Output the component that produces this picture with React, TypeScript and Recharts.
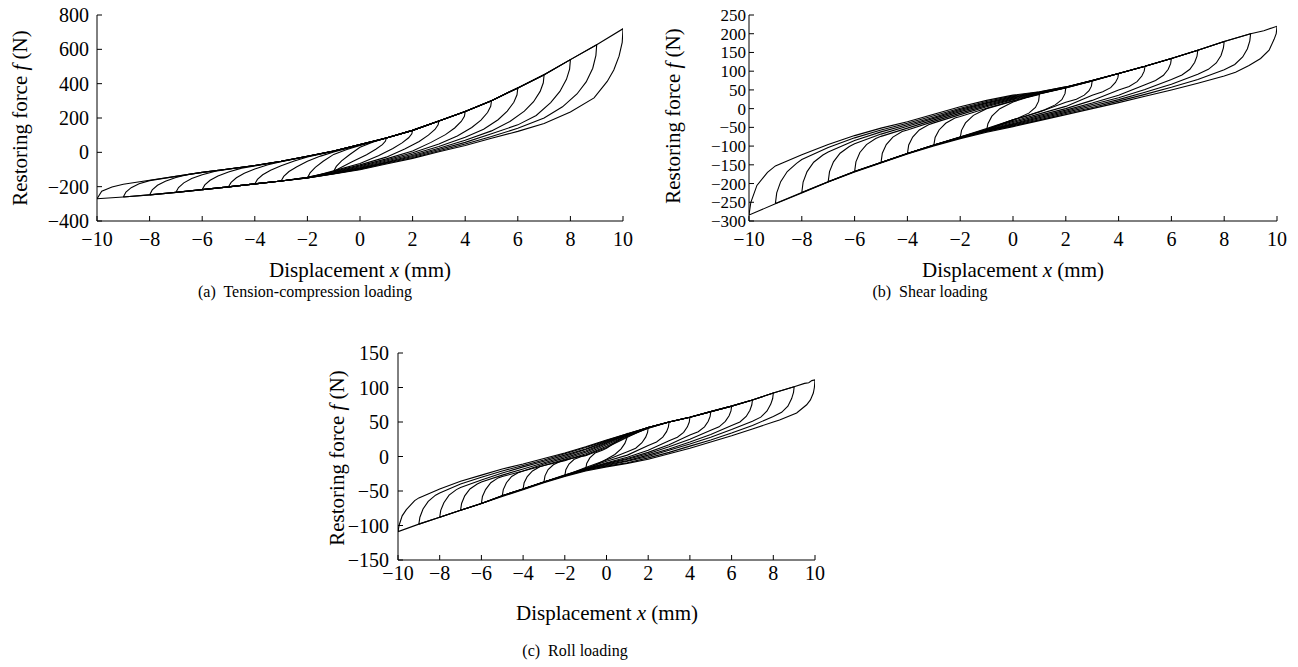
import React from 'react'
import { LineChart, Line, XAxis, YAxis } from 'recharts'

// tick values
const xTicks = [-10, -8, -6, -4, -2, 0, 2, 4, 6, 8, 10]
const yTicksA = [-400, -200, 0, 200, 400, 600, 800]
const yTicksB = [-300, -250, -200, -150, -100, -50, 0, 50, 100, 150, 200, 250]
const yTicksC = [-150, -100, -50, 0, 50, 100, 150]

// (a) tension-compression: one closed loop per amplitude, [x mm, f N]
const loopsA = [
  [[-1,-110],[-0.9,-82],[-0.7,-50],[-0.4,-14],[0,30],[0.5,60],[1,84],[0.97,66],[0.85,45],[0.6,18],[0.25,-14],[-0.3,-55],[-1,-110]],
  [[-2,-149],[-1.9,-120],[-1.7,-88],[-1.4,-52],[-1,-12],[-0.5,16],[0,40],[1,83],[2,128],[1.97,108],[1.85,85],[1.6,55],[1.25,22],[0.7,-20],[0,-65],[-1,-108],[-2,-149]],
  [[-3,-167],[-2.9,-140],[-2.7,-112],[-2.4,-84],[-2,-52],[-1.5,-22],[-1,2],[0,43],[1,84],[2,128],[3,182],[2.97,160],[2.85,133],[2.6,100],[2.25,63],[1.7,20],[1,-28],[0,-73],[-1,-112],[-2,-145],[-3,-167]],
  [[-4,-184],[-3.9,-158],[-3.7,-131],[-3.4,-104],[-3,-78],[-2.5,-50],[-2,-27],[-1,6],[0,44],[1,84],[2,128],[3,182],[4,238],[3.97,210],[3.85,180],[3.6,142],[3.25,103],[2.7,58],[2,8],[1,-38],[0,-79],[-1,-115],[-2,-146],[-3,-167],[-4,-184]],
  [[-5,-201],[-4.9,-175],[-4.7,-148],[-4.4,-122],[-4,-97],[-3.5,-72],[-3,-55],[-2,-24],[-1,7],[0,45],[1,84],[2,128],[3,182],[4,238],[5,301],[4.97,268],[4.85,232],[4.6,188],[4.25,145],[3.7,95],[3,48],[2,-3],[1,-45],[0,-84],[-1,-118],[-2,-147],[-3,-167],[-4,-184],[-5,-201]],
  [[-6,-217],[-5.9,-190],[-5.7,-163],[-5.4,-138],[-5,-114],[-4.5,-92],[-4,-79],[-3,-53],[-2,-23],[-1,8],[0,45],[1,84],[2,128],[3,182],[4,238],[5,301],[6,375],[5.97,335],[5.85,292],[5.6,240],[5.25,190],[4.7,135],[4,88],[3,34],[2,-11],[1,-51],[0,-88],[-1,-120],[-2,-148],[-3,-167],[-4,-184],[-5,-201],[-6,-217]],
  [[-7,-233],[-6.9,-205],[-6.7,-178],[-6.4,-153],[-6,-131],[-5.5,-110],[-5,-98],[-4,-77],[-3,-52],[-2,-23],[-1,8],[0,45],[1,84],[2,128],[3,182],[4,238],[5,301],[6,375],[7,452],[6.97,405],[6.85,355],[6.6,295],[6.25,240],[5.7,180],[5,125],[4,70],[3,24],[2,-18],[1,-56],[0,-92],[-1,-122],[-2,-148],[-3,-167],[-4,-184],[-5,-201],[-6,-217],[-7,-233]],
  [[-8,-248],[-7.9,-219],[-7.7,-192],[-7.4,-168],[-7,-147],[-6.5,-128],[-6,-117],[-5,-97],[-4,-77],[-3,-52],[-2,-23],[-1,8],[0,45],[1,84],[2,128],[3,182],[4,238],[5,301],[6,375],[7,452],[8,540],[7.97,485],[7.85,425],[7.6,355],[7.25,290],[6.7,215],[6,160],[5,108],[4,58],[3,16],[2,-24],[1,-60],[0,-95],[-1,-124],[-2,-149],[-3,-167],[-4,-184],[-5,-201],[-6,-217],[-7,-233],[-8,-248]],
  [[-9,-260],[-8.9,-231],[-8.7,-206],[-8.4,-183],[-8,-165],[-7,-140],[-6,-117],[-5,-97],[-4,-77],[-3,-52],[-2,-23],[-1,8],[0,45],[1,84],[2,128],[3,182],[4,238],[5,301],[6,375],[7,452],[8,540],[9,627],[8.97,565],[8.85,490],[8.6,410],[8.25,340],[7.7,265],[7,200],[6,140],[5,92],[4,48],[3,9],[2,-30],[1,-64],[0,-98],[-1,-125],[-2,-149],[-3,-167],[-4,-184],[-5,-201],[-6,-217],[-7,-233],[-8,-248],[-9,-260]],
  [[-10,-270],[-9.82,-227],[-9.43,-202],[-9,-186],[-8,-163],[-7,-140],[-6,-117],[-5,-97],[-4,-77],[-3,-52],[-2,-23],[-1,8],[0,45],[1,84],[2,128],[3,182],[4,238],[5,301],[6,375],[7,452],[8,540],[9,627],[10,720],[9.97,640],[9.85,560],[9.65,480],[9.4,413],[8.9,317],[8,235],[7,168],[6,122],[5,82],[4,40],[3,3],[2,-35],[1,-68],[0,-101],[-1,-126],[-2,-149],[-3,-167],[-4,-184],[-5,-201],[-6,-217],[-7,-233],[-8,-248],[-9,-260],[-10,-270]],
]

// (b) shear
const loopsB = [
  [[-1,-58],[-0.95,-40],[-0.8,-20],[-0.5,0],[0,18],[0.5,29],[1,38],[0.97,20],[0.85,3],[0.6,-12],[0.2,-25],[-0.3,-38],[-0.7,-49],[-1,-58]],
  [[-2,-78],[-1.95,-58],[-1.8,-38],[-1.5,-18],[-1,0],[0,20],[1,40],[2,56],[1.97,40],[1.85,24],[1.6,10],[1.2,-3],[0.5,-20],[0,-30],[-1,-55],[-2,-78]],
  [[-3,-98],[-2.95,-77],[-2.8,-57],[-2.55,-39],[-2.2,-25],[-2,-21],[-1,1],[0,21],[1,39],[2,55],[3,74],[2.97,60],[2.88,48],[2.7,36],[2.4,25],[2,17],[1,-9],[0,-30],[-1,-53],[-2,-76],[-3,-98]],
  [[-4,-120],[-3.95,-97],[-3.8,-76],[-3.55,-57],[-3.2,-43],[-3,-38],[-2,-16],[-1,5],[0,24],[1,40],[2,56],[3,74],[4,94],[3.97,82],[3.88,70],[3.7,56],[3.4,45],[3,36],[2,6],[1,-14],[0,-34],[-1,-55],[-2,-76],[-3,-97],[-4,-120]],
  [[-5,-144],[-4.95,-119],[-4.8,-96],[-4.55,-76],[-4.2,-61],[-4,-57],[-3,-34],[-2,-12],[-1,8],[0,26],[1,41],[2,56],[3,74],[4,94],[5,113],[4.97,100],[4.88,87],[4.7,72],[4.4,59],[4,50],[3,22],[2,0],[1,-18],[0,-37],[-1,-57],[-2,-76],[-3,-97],[-4,-120],[-5,-144]],
  [[-6,-168],[-5.95,-142],[-5.8,-117],[-5.55,-96],[-5.2,-80],[-5,-74],[-4,-52],[-3,-30],[-2,-8],[-1,11],[0,28],[1,42],[2,57],[3,75],[4,94],[5,113],[6,134],[5.97,120],[5.88,105],[5.7,89],[5.4,75],[5,64],[4,36],[3,15],[2,-4],[1,-21],[0,-40],[-1,-58],[-2,-77],[-3,-97],[-4,-120],[-5,-144],[-6,-168]],
  [[-7,-195],[-6.95,-168],[-6.8,-142],[-6.55,-119],[-6.2,-101],[-6,-94],[-5,-68],[-4,-47],[-3,-26],[-2,-5],[-1,14],[0,30],[1,43],[2,57],[3,75],[4,94],[5,113],[6,134],[7,156],[6.97,140],[6.88,123],[6.7,105],[6.4,90],[6,78],[5,51],[4,29],[3,11],[2,-7],[1,-24],[0,-42],[-1,-59],[-2,-77],[-3,-98],[-4,-120],[-5,-144],[-6,-168],[-7,-195]],
  [[-8,-224],[-7.95,-196],[-7.8,-168],[-7.55,-143],[-7.2,-124],[-7,-116],[-6,-85],[-5,-62],[-4,-43],[-3,-23],[-2,-2],[-1,16],[0,32],[1,43],[2,57],[3,75],[4,94],[5,113],[6,134],[7,156],[8,179],[7.97,162],[7.88,142],[7.7,122],[7.4,105],[7,92],[6,65],[5,44],[4,24],[3,7],[2,-10],[1,-27],[0,-44],[-1,-60],[-2,-78],[-3,-98],[-4,-120],[-5,-144],[-6,-168],[-7,-195],[-8,-224]],
  [[-9,-253],[-8.95,-225],[-8.8,-195],[-8.55,-168],[-8.2,-146],[-8,-136],[-7,-104],[-6,-78],[-5,-57],[-4,-39],[-3,-19],[-2,1],[-1,19],[0,34],[1,44],[2,58],[3,75],[4,94],[5,113],[6,134],[7,156],[8,179],[9,200],[8.97,181],[8.88,160],[8.7,138],[8.4,118],[8,104],[7,78],[6,57],[5,38],[4,20],[3,3],[2,-13],[1,-30],[0,-46],[-1,-61],[-2,-78],[-3,-98],[-4,-120],[-5,-144],[-6,-168],[-7,-195],[-8,-224],[-9,-253]],
  [[-10,-284],[-9.93,-250],[-9.7,-205],[-9.3,-170],[-9,-153],[-8,-123],[-7,-96],[-6,-72],[-5,-52],[-4,-35],[-3,-15],[-2,5],[-1,22],[0,36],[1,45],[2,58],[3,75],[4,94],[5,113],[6,134],[7,156],[8,179],[9,200],[9.5,208],[10,220],[9.97,200],[9.89,185],[9.7,156],[9.38,134],[8.94,115],[8.43,97],[8,87],[7,68],[6,50],[5,33],[4,16],[3,0],[2,-16],[1,-32],[0,-48],[-1,-63],[-2,-80],[-3,-100],[-4,-121],[-5,-145],[-6,-169],[-7,-196],[-8,-225],[-9,-254],[-10,-284]],
]

// (c) roll
const loopsC = [
  [[-1,-19],[-0.95,-10],[-0.8,-2],[-0.55,5],[-0.2,9],[0,12],[0.5,22],[1,33],[0.97,26],[0.88,19],[0.7,11],[0.4,3],[0,-4],[-0.5,-12],[-1,-19]],
  [[-2,-28],[-1.95,-19],[-1.8,-11],[-1.55,-4],[-1.2,0],[-1,1],[0,13],[1,28],[2,42],[1.97,35],[1.88,28],[1.7,20],[1.4,12],[1,7],[0,-5],[-1,-16],[-2,-28]],
  [[-3,-37],[-2.95,-28],[-2.8,-19],[-2.55,-12],[-2.2,-7],[-2,-5],[-1,2],[0,15],[1,29],[2,41],[3,50],[2.97,43],[2.88,36],[2.7,28],[2.4,21],[2,16],[1,2],[0,-7],[-1,-17],[-2,-27],[-3,-37]],
  [[-4,-47],[-3.95,-38],[-3.8,-29],[-3.55,-21],[-3.2,-15],[-3,-13],[-2,-6],[-1,4],[0,17],[1,30],[2,41],[3,50],[4,57],[3.97,50],[3.88,43],[3.7,35],[3.4,28],[3,23],[2,9],[1,-1],[0,-9],[-1,-18],[-2,-27],[-3,-37],[-4,-47]],
  [[-5,-57],[-4.95,-48],[-4.8,-38],[-4.55,-29],[-4.2,-23],[-4,-21],[-3,-13],[-2,-4],[-1,6],[0,19],[1,31],[2,42],[3,50],[4,57],[5,65],[4.97,58],[4.88,51],[4.7,43],[4.4,36],[4,31],[3,17],[2,6],[1,-3],[0,-10],[-1,-18],[-2,-28],[-3,-37],[-4,-47],[-5,-57]],
  [[-6,-68],[-5.95,-58],[-5.8,-48],[-5.55,-38],[-5.2,-31],[-5,-29],[-4,-21],[-3,-11],[-2,-2],[-1,8],[0,20],[1,32],[2,42],[3,50],[4,57],[5,65],[6,73],[5.97,66],[5.88,59],[5.7,51],[5.4,43],[5,38],[4,25],[3,14],[2,4],[1,-4],[0,-11],[-1,-19],[-2,-28],[-3,-37],[-4,-47],[-5,-57],[-6,-68]],
  [[-7,-78],[-6.95,-68],[-6.8,-57],[-6.55,-47],[-6.2,-40],[-6,-37],[-5,-27],[-4,-18],[-3,-9],[-2,0],[-1,10],[0,21],[1,32],[2,42],[3,50],[4,57],[5,65],[6,73],[7,82],[6.97,75],[6.88,67],[6.7,58],[6.4,50],[6,45],[5,32],[4,21],[3,11],[2,2],[1,-6],[0,-12],[-1,-19],[-2,-28],[-3,-37],[-4,-47],[-5,-57],[-6,-68],[-7,-78]],
  [[-8,-88],[-7.95,-78],[-7.8,-67],[-7.55,-56],[-7.2,-48],[-7,-45],[-6,-34],[-5,-24],[-4,-15],[-3,-7],[-2,2],[-1,11],[0,22],[1,32],[2,42],[3,50],[4,57],[5,65],[6,73],[7,82],[8,92],[7.97,84],[7.88,76],[7.7,66],[7.4,57],[7,51],[6,39],[5,28],[4,18],[3,9],[2,0],[1,-7],[0,-13],[-1,-20],[-2,-28],[-3,-37],[-4,-47],[-5,-57],[-6,-68],[-7,-78],[-8,-88]],
  [[-9,-98],[-8.95,-88],[-8.8,-76],[-8.55,-65],[-8.2,-56],[-8,-53],[-7,-40],[-6,-30],[-5,-21],[-4,-13],[-3,-5],[-2,4],[-1,13],[0,23],[1,33],[2,42],[3,50],[4,57],[5,65],[6,73],[7,82],[8,92],[9,101],[8.97,93],[8.88,84],[8.7,73],[8.4,64],[8,58],[7,45],[6,34],[5,24],[4,15],[3,6],[2,-2],[1,-9],[0,-14],[-1,-20],[-2,-28],[-3,-37],[-4,-47],[-5,-57],[-6,-68],[-7,-78],[-8,-88],[-9,-98]],
  [[-10,-109],[-9.95,-100],[-9.8,-86],[-9.6,-77],[-9.2,-64],[-9,-60],[-8,-47],[-7,-36],[-6,-27],[-5,-18],[-4,-11],[-3,-3],[-2,5],[-1,14],[0,24],[1,33],[2,42],[3,50],[4,57],[5,65],[6,73],[7,82],[8,92],[9,101],[9.5,106],[9.7,107],[9.85,110],[10,111],[9.97,100],[9.92,92],[9.78,82],[9.6,75],[9.12,63],[8.3,53],[8,50],[7,40],[6,30],[5,21],[4,12],[3,4],[2,-4],[1,-10],[0,-15],[-1,-21],[-2,-29],[-3,-38],[-4,-48],[-5,-58],[-6,-68],[-7,-78],[-8,-88],[-9,-98],[-10,-109]],
]

const serif = '"Liberation Serif", "Times New Roman", serif'
const minus = (v) => (v < 0 ? `\u2212${Math.abs(v)}` : `${v}`)

function Panel({ loops, yTicks, yDomain, left, top, width, height, margin, yWidth, xHeight, yGap, xGap, yFont = 20 }) {
  return (
    <div style={{ position: 'absolute', left, top }}>
      <LineChart width={width} height={height} margin={margin}>
        <XAxis type="number" dataKey="x" domain={[-10, 10]} ticks={xTicks} interval={0} height={xHeight}
          tickSize={-5} tickMargin={xGap} stroke="#000" tickFormatter={minus} allowDataOverflow
          tick={{ fill: '#000', fontSize: 20, fontFamily: serif }} />
        <YAxis type="number" domain={yDomain} ticks={yTicks} interval={0} width={yWidth}
          tickSize={-5} tickMargin={yGap} stroke="#000" tickFormatter={minus} allowDataOverflow
          tick={{ fill: '#000', fontSize: yFont, fontFamily: serif }} />
        {loops.map((loop, i) => (
          <Line key={i} data={loop.map(([x, y]) => ({ x, y }))} dataKey="y" type="linear"
            dot={false} activeDot={false} stroke="#000" strokeWidth={1.1} isAnimationActive={false} />
        ))}
      </LineChart>
    </div>
  )
}

function YLabel({ cx, cy }) {
  return (
    <div style={{ position: 'absolute', left: cx, top: cy, transform: 'translate(-50%, -50%) rotate(-90deg)',
      whiteSpace: 'nowrap', fontFamily: serif, fontSize: 21, lineHeight: 1 }}>
      Restoring force <i>f</i> (N)
    </div>
  )
}

function Text({ cx, cy, size, children }) {
  return (
    <div style={{ position: 'absolute', left: cx, top: cy, transform: 'translate(-50%, -50%)',
      whiteSpace: 'nowrap', fontFamily: serif, fontSize: size, lineHeight: 1 }}>
      {children}
    </div>
  )
}

export default function App() {
  return (
    <div style={{ position: 'absolute', left: 0, top: 0, width: 1298, height: 667, background: '#fff' }}>
      <Panel loops={loopsA} yTicks={yTicksA} yDomain={[-400, 800]} left={0} top={0} width={640} height={260}
        margin={{ top: 15, right: 17, bottom: 0, left: 0 }} yWidth={97} xHeight={39} yGap={13} xGap={16} />
      <YLabel cx={20} cy={118} />
      <Text cx={360} cy={270} size={21}>Displacement <i>x</i> (mm)</Text>
      <Text cx={305} cy={292} size={16}>(a)&nbsp; Tension-compression loading</Text>

      <Panel loops={loopsB} yTicks={yTicksB} yDomain={[-300, 250]} left={650} top={0} width={648} height={260}
        margin={{ top: 15, right: 21, bottom: 0, left: 0 }} yWidth={99} xHeight={39} yGap={8} xGap={16} yFont={17} />
      <YLabel cx={673} cy={116} />
      <Text cx={1013} cy={270} size={21}>Displacement <i>x</i> (mm)</Text>
      <Text cx={930} cy={292} size={16}>(b)&nbsp; Shear loading</Text>

      <Panel loops={loopsC} yTicks={yTicksC} yDomain={[-150, 150]} left={300} top={335} width={540} height={265}
        margin={{ top: 18, right: 25, bottom: 0, left: 0 }} yWidth={98} xHeight={40} yGap={14} xGap={11} />
      <YLabel cx={337} cy={458} />
      <Text cx={607} cy={613} size={21}>Displacement <i>x</i> (mm)</Text>
      <Text cx={575} cy={651} size={16}>(c)&nbsp; Roll loading</Text>
    </div>
  )
}
